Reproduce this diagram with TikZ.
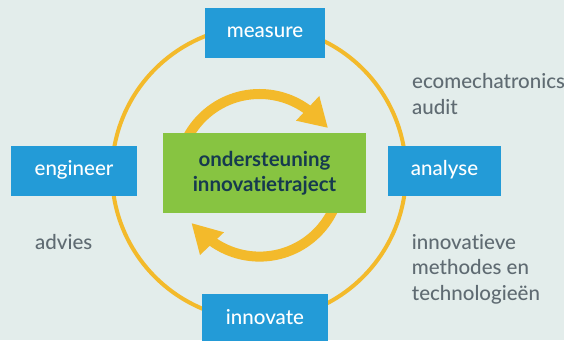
\documentclass[tikz,border=0pt]{standalone}
\usepackage{fontspec}
\setmainfont{Lato}[Ligatures=NoCommon]
\IfFontExistsTF{Lato Medium}{\newfontfamily\labelfont{Lato Medium}[Ligatures=NoCommon]}{\newfontfamily\labelfont{Lato}[Ligatures=NoCommon]}
\newfontfamily\corefont{Lato Bold}[Ligatures=NoCommon]
\definecolor{bg}{HTML}{E3EDEB}
\definecolor{boxblue}{HTML}{239BD7}
\definecolor{centergreen}{HTML}{87C441}
\definecolor{ringyellow}{HTML}{F3BA2B}
\definecolor{navy}{HTML}{163A4F}
\definecolor{notegray}{HTML}{5F6B72}
\begin{document}
\begin{tikzpicture}[x=1pt,y=1pt]
\tikzset{
  stagebox/.style={fill=boxblue, text=white, inner sep=0pt, minimum height=50pt,
    text height=12pt, text depth=2pt, font=\labelfont\fontsize{20.5}{25}\selectfont},
  note/.style={text=notegray, align=left, inner sep=0pt, anchor=base west,
    font=\labelfont\fontsize{20.5}{25.5}\selectfont},
  ring/.style={draw=ringyellow, line width=4pt},
  cyc/.style={draw=ringyellow, line width=10pt},
  tiphead/.style={fill=ringyellow}
}
\useasboundingbox[fill=bg] (0,0) rectangle (564,340);
\coordinate (oc) at (259,167);
\coordinate (ic) at (259.5,164.7);
\draw[ring] (oc) circle[radius=147];
\draw[cyc] (ic) ++(180:81.3) arc[start angle=180,end angle=51,radius=81.3];
\fill[tiphead] (327.7,212.3) -- (319.3,244) -- (296,219.3) -- cycle;
\draw[cyc] (ic) ++(0:81.3) arc[start angle=0,end angle=-128,radius=81.3];
\fill[tiphead] (191.7,116.7) -- (224,107.7) -- (200,85) -- cycle;
\node[stagebox, minimum width=120pt] (measure) at (265,307) {measure};
\node[stagebox, minimum width=126pt] (engineer) at (74,169) {engineer};
\node[stagebox, minimum width=113pt] (analyse) at (444.5,169) {analyse};
\node[stagebox, minimum width=126pt] (innovate) at (265,21) {innovate};
\node[fill=centergreen, text=navy, minimum width=203pt, minimum height=80pt,
  inner sep=0pt, align=center, font=\corefont\fontsize{20.5}{25}\selectfont]
  (core) at (264.5,167) {ondersteuning\\innovatietraject};
\node[note] (audit) at (412,225.7) {ecomechatronics\\audit};
\node[note] (methods) at (411.7,40) {innovatieve\\methodes en\\technologieën};
\node[note] (advies) at (35,91) {advies};
\end{tikzpicture}
\end{document}
